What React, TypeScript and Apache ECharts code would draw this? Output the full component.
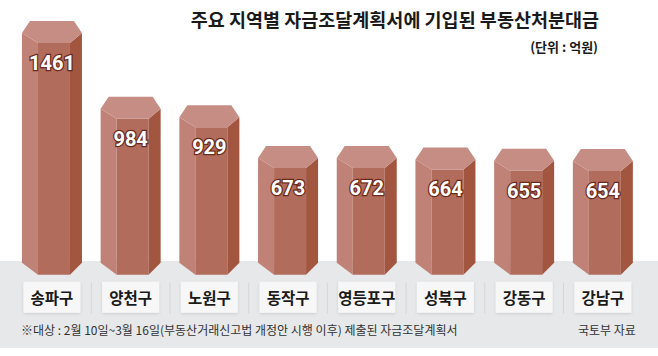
import React, { useEffect, useRef } from "react";
import * as echarts from "echarts";

const categories = ["송파구", "양천구", "노원구", "동작구", "영등포구", "성북구", "강동구", "강남구"];
const values = [1461, 984, 929, 673, 672, 664, 655, 654];
const titleText = "주요 지역별 자금조달계획서에 기입된 부동산처분대금";
const unitText = "(단위 : 억원)";
const noteText = "※대상 : 2월 10일~3월 16일(부동산거래신고법 개정안 시행 이후) 제출된 자금조달계획서";
const sourceText = "국토부 자료";

const FONT = '"Noto Sans CJK KR", "Noto Sans", sans-serif';

export default function App() {
  const ref = useRef<HTMLDivElement>(null);
  useEffect(() => {
    if (!ref.current) return;
    const chart = echarts.init(ref.current, null, { renderer: "svg" });
    const option: any = {
      animation: false,
      backgroundColor: "#ffffff",
      grid: { left: 12.6, right: 15.8, top: 14.8, bottom: 103.3 },
      xAxis: {
        type: "category",
        data: categories,
        axisLine: { show: false },
        axisTick: { show: false },
        axisLabel: {
          margin: 29,
          color: "#1a1a1a",
          fontSize: 15.5,
          fontWeight: "bold",
          fontFamily: FONT,
          backgroundColor: "#f7f7f7",
          width: 57,
          align: "center",
          padding: [7, 0, 7, 0],
          lineHeight: 17,
          shadowBlur: 3,
          shadowColor: "rgba(0,0,0,0.12)",
          shadowOffsetY: 1,
        },
      },
      yAxis: { type: "value", min: 0, max: 1500, show: false },
      graphic: [
        {
          type: "rect",
          shape: { x: 0, y: 261, width: 658, height: 87 },
          style: { fill: "#e6e8ea" },
          z: -10,
        },
        {
          type: "text",
          right: 59,
          top: 10,
          style: { text: titleText, font: `bold 18.5px ${FONT}`, fill: "#1a1a1a" },
        },
        {
          type: "text",
          right: 60,
          top: 40,
          style: { text: unitText, font: `bold 13px ${FONT}`, fill: "#1a1a1a" },
        },
        {
          type: "text",
          left: 21,
          top: 323,
          style: { text: noteText, font: `12px ${FONT}`, fill: "#333" },
        },
        {
          type: "text",
          left: 578,
          top: 323,
          style: { text: sourceText, font: `12px ${FONT}`, fill: "#333" },
        },
      ],
      series: [
        {
          type: "custom",
          data: values.map((v, i) => [i, v]),
          renderItem: (params: any, api: any) => {
            const i = api.value(0);
            const v = api.value(1);
            const [cx, y] = api.coord([i, v]);
            const base = api.coord([i, 0])[1];
            const bw = api.size([1, 0])[0];
            const children: any[] = [];
            if (i > 0) {
              const sx = cx - bw / 2;
              children.push({
                type: "line",
                shape: { x1: sx, y1: base + 30, x2: sx, y2: base + 61 },
                style: { stroke: "#d4d6d9", lineWidth: 1 },
              });
            }
            // soft shadow
            children.push({
              type: "polygon",
              shape: {
                points: [
                  [cx + 18, y + 24],
                  [cx + 30, y + 14],
                  [cx + 30, base + 10],
                  [cx + 18, base + 22],
                ],
              },
              style: {
                fill: "rgba(0,0,0,0.01)",
                shadowBlur: 14,
                shadowColor: "rgba(0,0,0,0.16)",
                shadowOffsetX: 8,
              },
            });
            children.push({
              type: "polygon",
              shape: {
                points: [
                  [cx - 30, y + 12],
                  [cx - 14, y + 22],
                  [cx - 14, base + 22],
                  [cx - 30, base + 10],
                ],
              },
              style: { fill: "#c08176" },
            });
            children.push({
              type: "polygon",
              shape: {
                points: [
                  [cx - 14, y + 22],
                  [cx + 18, y + 22],
                  [cx + 18, base + 22],
                  [cx - 14, base + 22],
                ],
              },
              style: { fill: "#b26c5c" },
            });
            children.push({
              type: "polygon",
              shape: {
                points: [
                  [cx + 18, y + 22],
                  [cx + 30, y + 12],
                  [cx + 30, base + 10],
                  [cx + 18, base + 22],
                ],
              },
              style: { fill: "#a25640" },
            });
            children.push({
              type: "polygon",
              shape: {
                points: [
                  [cx - 22, y],
                  [cx + 22, y],
                  [cx + 30, y + 12],
                  [cx + 18, y + 22],
                  [cx - 14, y + 22],
                  [cx - 30, y + 12],
                ],
              },
              style: { fill: "#c68d84" },
            });
            children.push({
              type: "text",
              style: {
                text: String(v),
                x: cx,
                y: y + 42,
                align: "center",
                verticalAlign: "middle",
                font: `bold 20px Roboto, ${FONT}`,
                fill: "#ffffff",
                stroke: "#6a2a1c",
                lineWidth: 2.5,
              },
            });
            return { type: "group", children };
          },
        },
      ],
    };
    chart.setOption(option);
    return () => chart.dispose();
  }, []);
  return (
    <div
      ref={ref}
      style={{ position: "fixed", left: 0, top: 0, width: 658, height: 356 }}
    />
  );
}
